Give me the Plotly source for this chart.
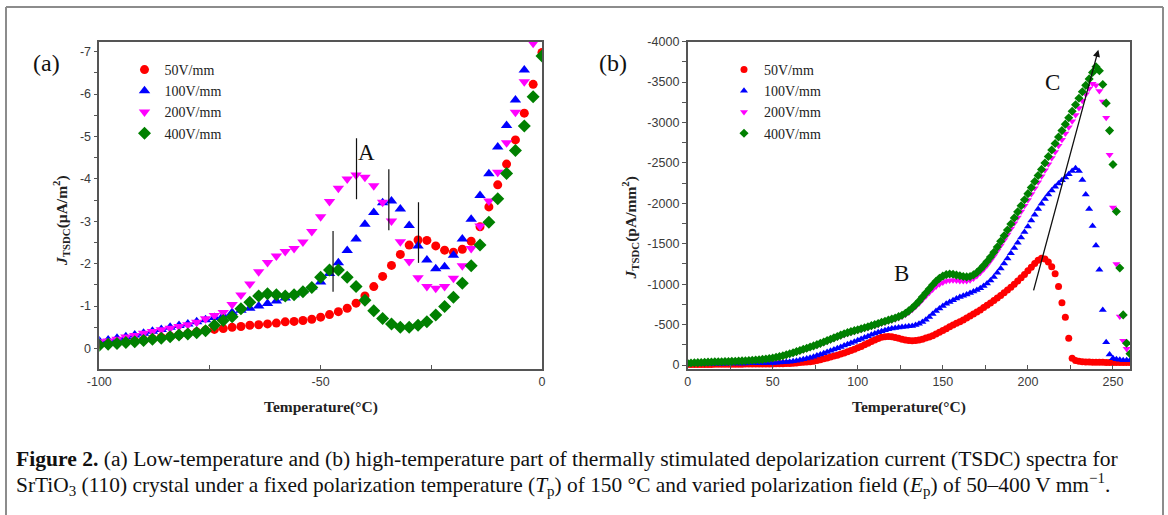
import plotly.graph_objects as go

W, H = 1168, 515

# ---------------- (a) low-temperature TSDC spectra ----------------
T_LOW = [-100, -98, -96, -94, -92, -90, -88, -86, -84, -82,
         -80, -78, -76, -74, -72, -70, -68, -66, -64, -62,
         -60, -58, -56, -54, -52, -50, -48, -46, -44, -42,
         -40, -38, -36, -34, -32, -30, -28, -26, -24, -22,
         -20, -18, -16, -14, -12, -10, -8, -6, -4, -2, 0]

J50_LOW = [-0.10, -0.12, -0.14, -0.16, -0.18, -0.20, -0.23, -0.26, -0.29, -0.32,
           -0.35, -0.39, -0.43, -0.45, -0.47, -0.50, -0.52, -0.55, -0.56, -0.58,
           -0.60, -0.63, -0.64, -0.66, -0.69, -0.74, -0.80, -0.87, -0.95, -1.07,
           -1.24, -1.46, -1.70, -1.96, -2.22, -2.44, -2.56, -2.55, -2.42, -2.32,
           -2.27, -2.34, -2.53, -2.87, -3.34, -3.86, -4.35, -4.92, -5.55, -6.23, -6.98]

J100_LOW = [-0.18, -0.20, -0.24, -0.28, -0.32, -0.36, -0.41, -0.45, -0.50, -0.54,
            -0.58, -0.63, -0.68, -0.73, -0.78, -0.85, -0.90, -0.95, -1.00, -1.06,
            -1.12, -1.19, -1.27, -1.36, -1.45, -1.57, -1.77, -2.02, -2.31, -2.58,
            -2.93, -3.21, -3.44, -3.48, -3.29, -2.90, -2.42, -2.09, -1.88, -1.93,
            -2.20, -2.58, -3.05, -3.61, -4.12, -4.75, -5.26, -5.86, -6.57]

J200_LOW = [-0.16, -0.18, -0.22, -0.27, -0.31, -0.36, -0.40, -0.44, -0.48, -0.52,
            -0.56, -0.62, -0.70, -0.78, -0.85, -1.04, -1.26, -1.52, -1.81, -2.03,
            -2.18, -2.29, -2.36, -2.51, -2.76, -3.11, -3.47, -3.78, -4.00, -4.09,
            -4.04, -3.84, -3.45, -3.01, -2.52, -2.05, -1.67, -1.46, -1.42, -1.46,
            -1.66, -1.95, -2.36, -2.89, -3.48, -4.16, -4.85, -5.57, -6.29, -7.20]

J400_LOW = [-0.08, -0.10, -0.12, -0.14, -0.16, -0.19, -0.22, -0.24, -0.28, -0.32,
            -0.34, -0.37, -0.42, -0.55, -0.66, -0.75, -0.94, -1.09, -1.24, -1.29,
            -1.27, -1.24, -1.27, -1.34, -1.44, -1.68, -1.85, -1.85, -1.68, -1.46,
            -1.14, -0.89, -0.71, -0.58, -0.50, -0.50, -0.55, -0.63, -0.79, -0.99,
            -1.21, -1.54, -1.95, -2.44, -2.98, -3.53, -4.13, -4.67, -5.25, -5.94, -6.90]

# peak markers of relaxation A: (temperature, lower J, upper J)
A_MARKS = [(-47.2, -2.77, -1.34), (-41.9, -4.96, -3.52),
           (-34.6, -4.23, -2.79), (-27.9, -3.45, -2.02)]

# ---------------- (b) high-temperature TSDC spectra ----------------
T_HIGH = [0, 2, 4, 6, 8, 10, 12, 14, 16, 18,
          20, 22, 24, 26, 28, 30, 32, 34, 36, 38,
          40, 42, 44, 46, 48, 50, 52, 54, 56, 58,
          60, 62, 64, 66, 68, 70, 72, 74, 76, 78,
          80, 82, 84, 86, 88, 90, 92, 94, 96, 98,
          100, 102, 104, 106, 108, 110, 112, 114, 116, 118,
          120, 122, 124, 126, 128, 130, 132, 134, 136, 138,
          140, 142, 144, 146, 148, 150, 152, 154, 156, 158,
          160, 162, 164, 166, 168, 170, 172, 174, 176, 178,
          180, 182, 184, 186, 188, 190, 192, 194, 196, 198,
          200, 202, 204, 206, 208, 210, 212, 214, 216, 218,
          220, 222, 224, 226, 228, 230, 232, 234, 236, 238,
          240, 242, 244, 246, 248, 250, 252, 254, 256, 258, 260]

J50_HIGH = [-5, -5, -6, -6, -6, -7, -7, -7, -8, -8,
            -8, -9, -9, -9, -10, -10, -10, -11, -11, -11,
            -12, -12, -12, -13, -13, -13, -14, -15, -16, -18,
            -20, -23, -26, -30, -33, -36, -41, -47, -55, -65,
            -77, -87, -98, -110, -122, -135, -150, -165, -180, -195,
            -212, -230, -250, -270, -290, -310, -328, -342, -350, -352,
            -348, -340, -330, -318, -308, -302, -300, -303, -310, -320,
            -333, -345, -362, -382, -404, -426, -449, -473, -496, -516,
            -535, -557, -580, -605, -630, -655, -682, -710, -738, -768,
            -798, -828, -860, -893, -927, -962, -1000, -1040, -1080, -1120,
            -1165, -1210, -1255, -1295, -1320, -1310, -1275, -1215, -1130, -970,
            -770, -590, -330, -85, -55, -45, -40, -38, -36, -35,
            -34, -33, -33, -32, -32, -31, -31, -30, -30, -30, -30]

J100_HIGH = [-12, -12, -13, -13, -14, -14, -15, -15, -16, -16,
             -17, -17, -18, -18, -19, -19, -20, -20, -21, -21,
             -22, -22, -23, -24, -25, -26, -28, -30, -33, -36,
             -40, -46, -53, -61, -70, -80, -91, -103, -116, -130,
             -145, -160, -176, -192, -208, -224, -240, -256, -272, -289,
             -306, -323, -340, -357, -373, -389, -404, -418, -430, -441,
             -451, -459, -465, -470, -474, -478, -484, -494, -510, -532,
             -560, -595, -632, -668, -700, -730, -757, -780, -802, -822,
             -840, -857, -873, -890, -908, -928, -950, -976, -1007, -1045,
             -1090, -1140, -1195, -1255, -1318, -1382, -1447, -1512, -1578, -1645,
             -1715, -1787, -1860, -1930, -1995, -2055, -2110, -2160, -2205, -2245,
             -2285, -2320, -2360, -2400, -2435, -2400, -2290, -2110, -1930, -1720,
             -1480, -1180, -680, -280, -130, -85, -70, -65, -60, -60, -58]

J200_HIGH = [-18, -20, -22, -24, -26, -28, -30, -32, -34, -36,
             -37, -38, -39, -41, -43, -45, -47, -49, -51, -53,
             -55, -58, -62, -66, -72, -78, -86, -95, -105, -117,
             -130, -143, -156, -170, -184, -198, -212, -226, -241, -257,
             -273, -290, -307, -324, -341, -357, -372, -386, -399, -411,
             -423, -435, -447, -459, -472, -485, -498, -512, -526, -540,
             -553, -567, -582, -600, -622, -650, -683, -720, -762, -806,
             -850, -893, -933, -970, -1000, -1022, -1038, -1046, -1048, -1045,
             -1040, -1038, -1040, -1050, -1070, -1100, -1140, -1185, -1235, -1290,
             -1350, -1412, -1478, -1546, -1615, -1685, -1755, -1826, -1898, -1970,
             -2042, -2115, -2188, -2262, -2336, -2410, -2485, -2560, -2636, -2712,
             -2788, -2864, -2940, -3016, -3092, -3180, -3270, -3350, -3420, -3480,
             -3460, -3390, -3260, -3060, -2600, -1950, -1250, -600, -300, -200, -150]

J400_HIGH = [-22, -24, -27, -29, -31, -33, -35, -37, -39, -40,
             -41, -42, -43, -45, -47, -49, -51, -53, -55, -58,
             -61, -65, -69, -74, -80, -87, -95, -104, -114, -126,
             -139, -152, -166, -180, -194, -208, -222, -236, -252, -268,
             -285, -302, -319, -336, -353, -370, -386, -400, -413, -425,
             -437, -449, -461, -474, -487, -500, -514, -528, -542, -555,
             -568, -582, -598, -616, -640, -670, -705, -745, -790, -840,
             -890, -940, -990, -1035, -1072, -1100, -1118, -1125, -1122, -1112,
             -1105, -1095, -1090, -1095, -1115, -1145, -1185, -1230, -1280, -1335,
             -1395, -1460, -1530, -1600, -1670, -1745, -1820, -1895, -1970, -2045,
             -2120, -2195, -2270, -2345, -2420, -2500, -2580, -2660, -2740, -2820,
             -2900, -2980, -3060, -3140, -3220, -3300, -3380, -3460, -3540, -3620,
             -3690, -3640, -3470, -3240, -2900, -2480, -1900, -1200, -620, -270, -140]

# arrow through the C peaks: (T start, J start, T end, J end)
C_ARROW = (203.1, -905, 241.4, -3900)

FIELDS = ["50V/mm", "100V/mm", "200V/mm", "400V/mm"]
COLORS = ["#ff0000", "#0000ff", "#ff00ff", "#008000"]
SYMBOLS = ["circle", "triangle-up", "triangle-down", "diamond"]
SIZES_A = [9, 10, 10, 10]
SIZES_B = [7, 7, 7, 7]

TICKS_A_X = [-100, -50, 0]
TICKS_A_Y = [-7, -6, -5, -4, -3, -2, -1, 0]
TICKS_B_X = [0, 50, 100, 150, 200, 250]
TICKS_B_Y = [-4000, -3500, -3000, -2500, -2000, -1500, -1000, -500, 0]

SERIF = "Liberation Serif, Times New Roman, serif"
SANS = "Liberation Sans, Arial, sans-serif"


def px_x(p):
    return p / W


def px_y(p):
    return 1 - p / H


fig = go.Figure()

low_sets = [J50_LOW, J100_LOW, J200_LOW, J400_LOW]
for i, jy in enumerate(low_sets):
    fig.add_trace(go.Scatter(
        x=T_LOW[:len(jy)], y=jy, mode="markers", name=FIELDS[i],
        marker=dict(symbol=SYMBOLS[i], color=COLORS[i], size=SIZES_A[i], line=dict(width=0)),
        xaxis="x", yaxis="y", legend="legend"))

high_sets = [J50_HIGH, J100_HIGH, J200_HIGH, J400_HIGH]
for i, jy in enumerate(high_sets):
    fig.add_trace(go.Scatter(
        x=T_HIGH, y=jy, mode="markers", name=FIELDS[i],
        marker=dict(symbol=SYMBOLS[i], color=COLORS[i], size=SIZES_B[i], line=dict(width=0)),
        xaxis="x2", yaxis="y2", legend="legend2"))

axis_line = dict(showline=True, linecolor="#555555", linewidth=1.5, mirror=True,
                 showgrid=False, zeroline=False, automargin=False,
                 tickfont=dict(family=SANS, size=12.5, color="#3a3a3a"),
                 tickcolor="#555555", tickwidth=1.2, ticklen=4)

legend_style = dict(xanchor="left", yanchor="top", bgcolor="rgba(0,0,0,0)",
                    tracegroupgap=0, itemwidth=30,
                    font=dict(family=SERIF, size=14, color="#222222"))

fig.update_layout(
    width=W, height=H, margin=dict(l=0, r=0, t=0, b=0, autoexpand=False),
    paper_bgcolor="white", plot_bgcolor="white",
    xaxis=dict(domain=[px_x(99.3), px_x(542)], range=[-100, 0],
               tickmode="array", tickvals=TICKS_A_X, ticktext=[str(v) for v in TICKS_A_X],
               ticks="inside", minor=dict(ticks="inside", dtick=25, tick0=0, ticklen=4, tickcolor="#555555"),
               anchor="y", **axis_line),
    yaxis=dict(domain=[px_y(369), px_y(41.7)], range=[0.483, -7.236],
               tickmode="array", tickvals=TICKS_A_Y, ticktext=[str(v) for v in TICKS_A_Y],
               ticks="outside", minor=dict(ticks="outside", dtick=0.5, tick0=0, ticklen=4, tickcolor="#555555"),
               anchor="x", **axis_line),
    xaxis2=dict(domain=[px_x(687.6), px_x(1130)], range=[0, 260],
                tickmode="array", tickvals=TICKS_B_X, ticktext=[str(v) for v in TICKS_B_X],
                ticks="inside", minor=dict(ticks="inside", dtick=25, tick0=0, ticklen=4, tickcolor="#555555"),
                anchor="y2", **axis_line),
    yaxis2=dict(domain=[px_y(369), px_y(41.7)], range=[49.5, -4000],
                tickmode="array", tickvals=TICKS_B_Y, ticktext=[str(v) for v in TICKS_B_Y],
                ticks="outside", minor=dict(ticks="outside", dtick=250, tick0=0, ticklen=4, tickcolor="#555555"),
                anchor="x2", **axis_line),
    legend=dict(x=px_x(124.5), y=px_y(54), **legend_style),
    legend2=dict(x=px_x(724), y=px_y(54), **legend_style),
)

# peak guide lines for relaxation A
for t, j0, j1 in A_MARKS:
    fig.add_shape(type="line", xref="x", yref="y", x0=t, x1=t, y0=j0, y1=j1,
                  line=dict(color="#111111", width=1.2))

# arrow across the C peaks
fig.add_annotation(xref="x2", yref="y2", axref="x2", ayref="y2",
                   x=C_ARROW[2], y=C_ARROW[3], ax=C_ARROW[0], ay=C_ARROW[1],
                   text="", showarrow=True, arrowhead=2, arrowsize=1.1,
                   arrowwidth=1.3, arrowcolor="#111111", standoff=0)

# peak labels
for txt, xr, yr, xv, yv in [("A", "x", "y", -39.6, -4.62),
                            ("B", "x2", "y2", 125.5, -1134),
                            ("C", "x2", "y2", 214.6, -3493)]:
    fig.add_annotation(xref=xr, yref=yr, x=xv, y=yv, text=txt, showarrow=False,
                       xanchor="center", yanchor="middle",
                       font=dict(family=SERIF, size=23, color="#111111"))

# panel letters
for txt, xp in [("(a)", 46), ("(b)", 613)]:
    fig.add_annotation(xref="paper", yref="paper", x=px_x(xp), y=px_y(63), text=txt,
                       xanchor="center", yanchor="middle", showarrow=False,
                       font=dict(family=SERIF, size=24, color="#111111"))

# axis titles
title_font = dict(family=SERIF, size=15.5, color="#222222")
for xp in [320.7, 908.5]:
    fig.add_annotation(xref="paper", yref="paper", x=px_x(xp), y=px_y(407),
                       xanchor="center", yanchor="middle",
                       text="<b>Temperature(°C)</b>", showarrow=False, font=title_font)
fig.add_annotation(xref="paper", yref="paper", x=px_x(61), y=px_y(221), textangle=-90,
                   xanchor="center", yanchor="middle",
                   text="<b><i>J</i><sub>TSDC</sub>(μA/m<sup>2</sup>)</b>",
                   showarrow=False, font=title_font)
fig.add_annotation(xref="paper", yref="paper", x=px_x(630.5), y=px_y(228), textangle=-90,
                   xanchor="center", yanchor="middle",
                   text="<b><i>J</i><sub>TSDC</sub>(pA/mm<sup>2</sup>)</b>",
                   showarrow=False, font=title_font)

# figure caption
fig.add_annotation(xref="paper", yref="paper", x=px_x(14), y=px_y(459),
                   xanchor="left", yanchor="middle",
                   text="<b>Figure 2.</b> (a) Low-temperature and (b) high-temperature part of "
                        "thermally stimulated depolarization current (TSDC) spectra for",
                   showarrow=False, font=dict(family=SERIF, size=21.6, color="#111111"))
fig.add_annotation(xref="paper", yref="paper", x=px_x(14), y=px_y(484),
                   xanchor="left", yanchor="middle",
                   text="SrTiO<sub>3</sub> (110) crystal under a fixed polarization temperature "
                        "(<i>T</i><sub>p</sub>) of 150 °C and varied polarization field "
                        "(<i>E</i><sub>p</sub>) of 50–400 V mm<sup>−1</sup>.",
                   showarrow=False, font=dict(family=SERIF, size=21.4, color="#111111"))

# outer frame (open at the bottom)
frame = dict(color="#8c8c8c", width=2)
fig.add_shape(type="line", xref="paper", yref="paper", x0=px_x(6), x1=px_x(6), y0=0, y1=px_y(7), line=frame)
fig.add_shape(type="line", xref="paper", yref="paper", x0=px_x(6), x1=px_x(1163), y0=px_y(7), y1=px_y(7), line=frame)
fig.add_shape(type="line", xref="paper", yref="paper", x0=px_x(1163), x1=px_x(1163), y0=0, y1=px_y(7), line=frame)

fig.write_html("out.html")
